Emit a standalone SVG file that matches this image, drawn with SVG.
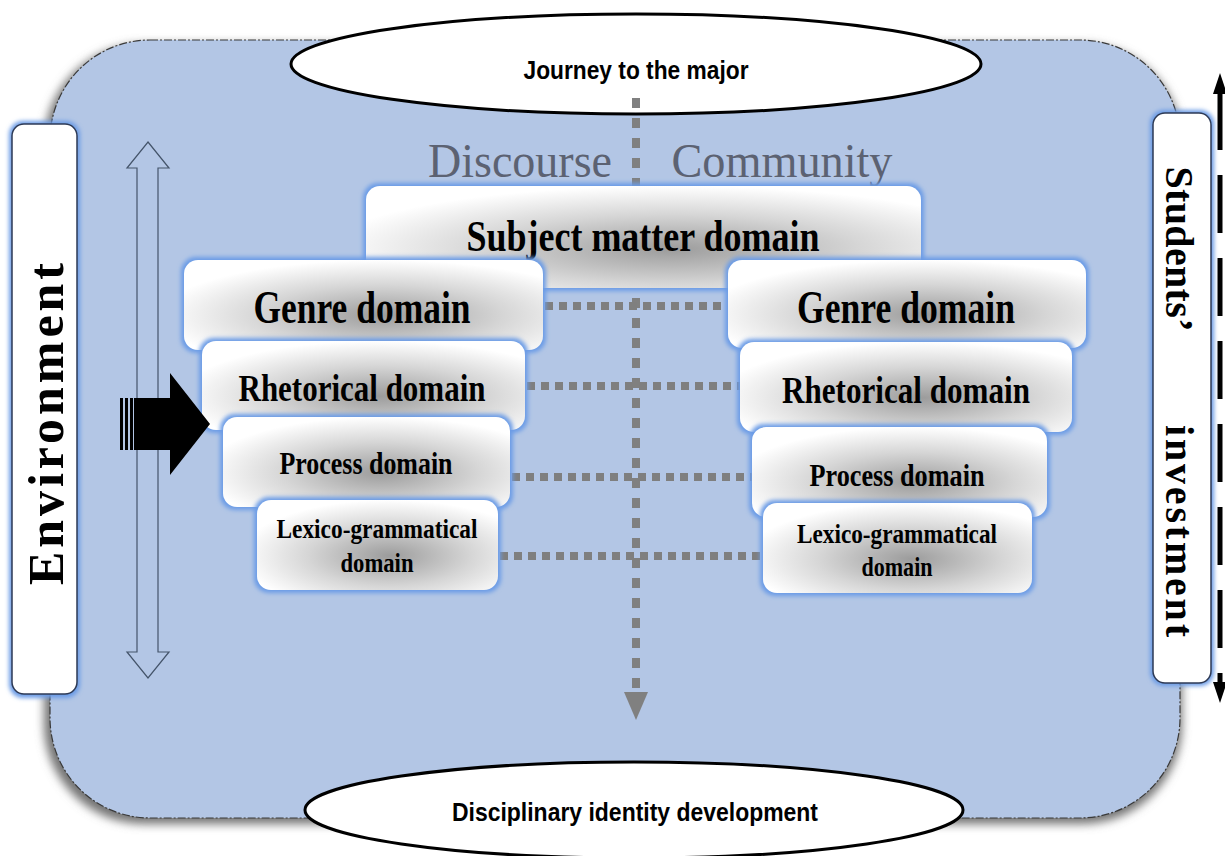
<svg xmlns="http://www.w3.org/2000/svg" width="1225" height="856" viewBox="0 0 1225 856">
  <defs>
    <filter id="shadow" x="-10%" y="-10%" width="120%" height="120%">
      <feGaussianBlur stdDeviation="5"/>
    </filter>
    <filter id="glow" x="-10%" y="-10%" width="120%" height="120%">
      <feGaussianBlur stdDeviation="2.2"/>
    </filter>
    <radialGradient id="metal" cx="0.55" cy="0.62" r="0.62">
      <stop offset="0" stop-color="#9c9c9c"/>
      <stop offset="0.55" stop-color="#d6d6d6"/>
      <stop offset="1" stop-color="#ffffff"/>
    </radialGradient>
    <style>
      .glow { fill: #6b9be6; filter: url(#glow); }
      .box { fill: url(#metal); }
      .label { font-family: "Liberation Serif", "Times New Roman", serif; font-weight: bold; fill: #000; text-anchor: middle; }
      .oval { fill: #ffffff; stroke: #000; stroke-width: 3; }
      .ovalText { font-family: "Liberation Sans", Arial, sans-serif; font-weight: bold; font-size: 26px; fill: #000; text-anchor: middle; }
      .side { fill: #ffffff; stroke: #2e3a55; stroke-width: 1.5; }
      .dots { stroke: #7f7f7f; stroke-width: 8; stroke-dasharray: 8 6; fill: none; }
    </style>
  </defs>

  <!-- outer field -->
  <g id="field">
    <rect x="44" y="44" width="1138" height="780" rx="100" fill="#737373" filter="url(#shadow)"/>
    <rect x="50" y="40" width="1130" height="778" rx="100" fill="#b3c6e5" stroke="#3a3a3a" stroke-width="1.2" stroke-dasharray="8 2 2 2"/>
  </g>

  <!-- header oval -->
  <g id="journey">
    <ellipse cx="636" cy="64" rx="345" ry="50" class="oval"/>
    <text x="636" y="79" class="ovalText" textLength="225" lengthAdjust="spacingAndGlyphs">Journey to the major</text>
  </g>

  <!-- connectors -->
  <g id="connectors">
    <line x1="636" y1="98" x2="636" y2="690" stroke="#808080" stroke-width="8" stroke-dasharray="10 10"/>
    <polygon points="624,692 648,692 636,720" fill="#808080"/>
    <line x1="545" y1="306" x2="727" y2="306" class="dots"/>
    <line x1="527" y1="386" x2="740" y2="386" class="dots"/>
    <line x1="512" y1="477" x2="752" y2="477" class="dots"/>
    <line x1="500" y1="556" x2="763" y2="556" class="dots"/>
  </g>

  <g id="discourse-community" font-family="'Liberation Serif', 'Times New Roman', serif" font-size="49" fill="#5c6272">
    <text x="520" y="177" text-anchor="middle" textLength="184" lengthAdjust="spacingAndGlyphs">Discourse</text>
    <text x="782" y="177" text-anchor="middle" textLength="221" lengthAdjust="spacingAndGlyphs">Community</text>
  </g>

  <g id="subject-matter">
    <rect x="363" y="183" width="561" height="108" rx="15" class="glow"/>
    <rect x="366" y="186" width="555" height="102" rx="14" class="box"/>
    <text x="643" y="251" class="label" font-size="44" textLength="353" lengthAdjust="spacingAndGlyphs">Subject matter domain</text>
  </g>

  <g id="genre-left">
    <rect x="181" y="257" width="365" height="96" rx="15" class="glow"/>
    <rect x="184" y="260" width="359" height="90" rx="14" class="box"/>
    <text x="362" y="323" class="label" font-size="46" textLength="217" lengthAdjust="spacingAndGlyphs">Genre domain</text>
  </g>
  <g id="genre-right">
    <rect x="725" y="257" width="364" height="94" rx="15" class="glow"/>
    <rect x="728" y="260" width="358" height="88" rx="14" class="box"/>
    <text x="906" y="323" class="label" font-size="46" textLength="218" lengthAdjust="spacingAndGlyphs">Genre domain</text>
  </g>

  <g id="rhetorical-left">
    <rect x="199" y="338" width="329" height="95" rx="15" class="glow"/>
    <rect x="202" y="341" width="323" height="89" rx="14" class="box"/>
    <text x="362" y="401" class="label" font-size="38" textLength="247" lengthAdjust="spacingAndGlyphs">Rhetorical domain</text>
  </g>
  <g id="rhetorical-right">
    <rect x="737" y="339" width="338" height="96" rx="15" class="glow"/>
    <rect x="740" y="342" width="332" height="90" rx="14" class="box"/>
    <text x="906" y="403" class="label" font-size="38" textLength="248" lengthAdjust="spacingAndGlyphs">Rhetorical domain</text>
  </g>

  <g id="process-left">
    <rect x="220" y="414" width="293" height="96" rx="15" class="glow"/>
    <rect x="223" y="417" width="287" height="90" rx="14" class="box"/>
    <text x="366" y="474" class="label" font-size="32" textLength="173" lengthAdjust="spacingAndGlyphs">Process domain</text>
  </g>
  <g id="process-right">
    <rect x="749" y="424" width="301" height="96" rx="15" class="glow"/>
    <rect x="752" y="427" width="295" height="90" rx="14" class="box"/>
    <text x="897" y="486" class="label" font-size="32" textLength="175" lengthAdjust="spacingAndGlyphs">Process domain</text>
  </g>

  <g id="lexico-left">
    <rect x="254" y="497" width="247" height="96" rx="15" class="glow"/>
    <rect x="257" y="500" width="241" height="90" rx="14" class="box"/>
    <text x="377" y="538" class="label" font-size="28" textLength="201" lengthAdjust="spacingAndGlyphs">Lexico-grammatical</text>
    <text x="377" y="572" class="label" font-size="28" textLength="73" lengthAdjust="spacingAndGlyphs">domain</text>
  </g>
  <g id="lexico-right">
    <rect x="760" y="500" width="275" height="96" rx="15" class="glow"/>
    <rect x="763" y="503" width="269" height="90" rx="14" class="box"/>
    <text x="897" y="543" class="label" font-size="28" textLength="200" lengthAdjust="spacingAndGlyphs">Lexico-grammatical</text>
    <text x="897" y="576" class="label" font-size="28" textLength="71" lengthAdjust="spacingAndGlyphs">domain</text>
  </g>

  <!-- hollow up/down arrow -->
  <g id="range-arrow">
    <path d="M148,142 L169,168 L158,168 L158,652 L169,652 L148,678 L127,652 L137,652 L137,168 L127,168 Z" fill="none" stroke="#44546a" stroke-width="1.2" stroke-linejoin="miter"/>
  </g>

  <!-- striped block arrow -->
  <g id="entry-arrow" fill="#000">
    <rect x="120" y="398" width="3" height="52"/>
    <rect x="125" y="398" width="3" height="52"/>
    <rect x="130" y="398" width="3" height="52"/>
    <polygon points="134,398 170,398 170,373 210,424 170,475 170,450 134,450"/>
  </g>

  <g id="environment">
    <rect x="9" y="121" width="71" height="577" rx="14" class="glow"/>
    <rect x="12" y="124" width="65" height="570" rx="12" class="side"/>
    <text transform="translate(63,424) rotate(-90)" class="label" font-size="50" textLength="322" lengthAdjust="spacing">Environment</text>
  </g>

  <g id="students-investment">
    <rect x="1150" y="110" width="64" height="576" rx="14" class="glow"/>
    <rect x="1153" y="113" width="58" height="570" rx="12" class="side"/>
    <text transform="translate(1166,249) rotate(90)" class="label" font-size="40" textLength="165" lengthAdjust="spacing">Students’</text>
    <text transform="translate(1166,531) rotate(90)" class="label" font-size="40" textLength="212" lengthAdjust="spacing">investment</text>
  </g>

  <!-- dashed two-way arrow along the right edge -->
  <g id="investment-arrow">
    <line x1="1220" y1="92" x2="1220" y2="684" stroke="#000" stroke-width="5" stroke-dasharray="58 25"/>
    <polygon points="1220,73 1227,94 1213,94" fill="#000"/>
    <polygon points="1220,703 1227,682 1213,682" fill="#000"/>
  </g>

  <!-- footer oval -->
  <g id="identity">
    <ellipse cx="634" cy="810" rx="329" ry="48" class="oval"/>
    <text x="635" y="821" class="ovalText" textLength="366" lengthAdjust="spacingAndGlyphs">Disciplinary identity development</text>
  </g>
</svg>
